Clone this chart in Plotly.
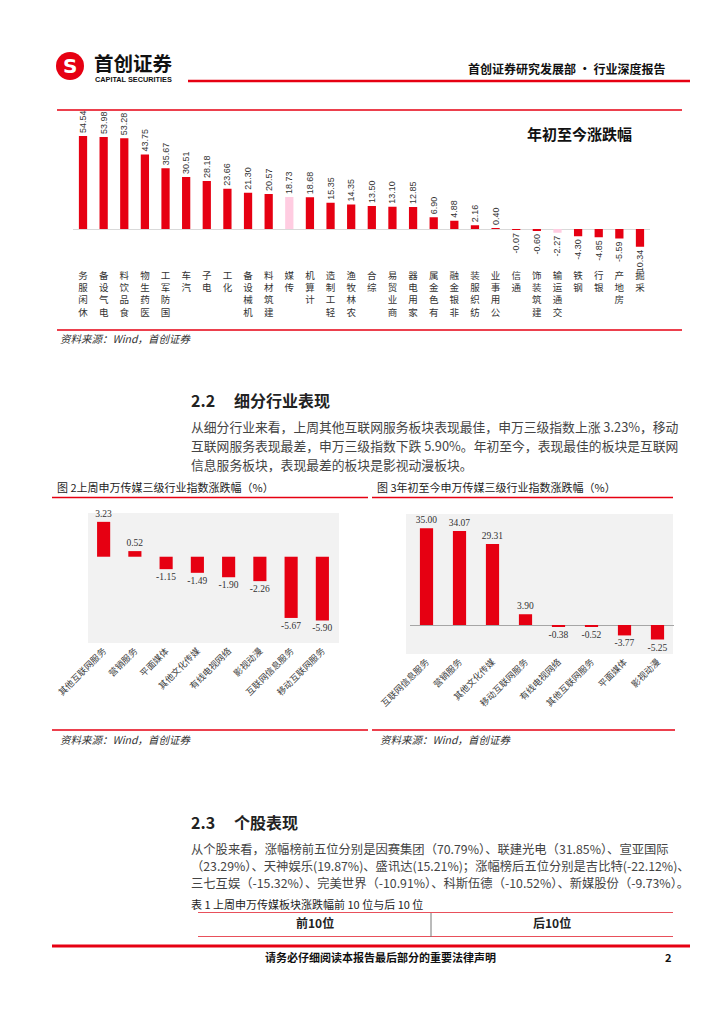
import plotly.graph_objects as go

# page is rendered inside an HTML body with an 8px margin; figure sized so the page fits the window
OFF = 8
FW, FH = 708, 1008
def X(px): return (px - OFF) / FW
def Y(py): return 1 - (py - OFF) / FH

RED = "#E60012"
PINK = "#FFCCE1"
GRAYBG = "#F2F2F2"
CJK = "Noto Sans CJK SC"

# ---------------- data ----------------
cats1 = ["休闲服务", "电气设备", "食品饮料", "医药生物", "国防军工", "汽车", "电子", "化工",
         "机械设备", "建筑材料", "传媒", "计算机", "轻工制造", "农林牧渔", "综合", "商业贸易",
         "家用电器", "有色金属", "非银金融", "纺织服装", "公用事业", "通信", "建筑装饰",
         "交通运输", "钢铁", "银行", "房地产", "采掘"]
vals1 = [54.54, 53.98, 53.28, 43.75, 35.67, 30.51, 28.18, 23.66, 21.30, 20.57, 18.73, 18.68,
         15.35, 14.35, 13.50, 13.10, 12.85, 6.90, 4.88, 2.16, 0.40, -0.07, -0.60, -2.27,
         -4.30, -4.85, -5.59, -10.34]
highlight1 = ["传媒", "交通运输"]

cats2 = ["其他互联网服务", "营销服务", "平面媒体", "其他文化传媒", "有线电视网络", "影视动漫",
         "互联网信息服务", "移动互联网服务"]
vals2 = [3.23, 0.52, -1.15, -1.49, -1.90, -2.26, -5.67, -5.90]

cats3 = ["互联网信息服务", "营销服务", "其他文化传媒", "移动互联网服务", "有线电视网络",
         "其他互联网服务", "平面媒体", "影视动漫"]
vals3 = [35.00, 34.07, 29.31, 3.90, -0.38, -0.52, -3.77, -5.25]

fig = go.Figure()

# ---------------- chart 1 ----------------
fig.add_trace(go.Bar(
    x=cats1, y=vals1, xaxis="x", yaxis="y",
    marker=dict(color=[PINK if c in highlight1 else RED for c in cats1], line=dict(width=0)),
    width=0.4,
    text=[f"{v:.2f}" for v in vals1], textposition="outside", textangle=-90,
    textfont=dict(size=9, family="Liberation Sans", color="#333333"),
    cliponaxis=False, constraintext="none", hoverinfo="skip", showlegend=False))

# ---------------- chart 2 ----------------
fig.add_trace(go.Bar(
    x=cats2, y=vals2, xaxis="x2", yaxis="y2",
    marker=dict(color=RED, line=dict(width=0)), width=0.42,
    text=[f"{v:.2f}" for v in vals2], textposition="outside", textangle=0,
    textfont=dict(size=9.5, family="Liberation Serif", color="#333333"),
    cliponaxis=False, constraintext="none", hoverinfo="skip", showlegend=False))

# ---------------- chart 3 ----------------
fig.add_trace(go.Bar(
    x=cats3, y=vals3, xaxis="x3", yaxis="y3",
    marker=dict(color=RED, line=dict(width=0)), width=0.4,
    text=[f"{v:.2f}" for v in vals3], textposition="outside", textangle=0,
    textfont=dict(size=9.5, family="Liberation Serif", color="#333333"),
    cliponaxis=False, constraintext="none", hoverinfo="skip", showlegend=False))

vert1 = ["<br>".join(reversed(c)) for c in cats1]

noaxis = dict(showgrid=False, showline=False, ticks="", fixedrange=True, automargin=False)
fig.update_layout(
    width=FW, height=FH, autosize=False,
    margin=dict(l=0, r=0, t=0, b=0, pad=0, autoexpand=False),
    paper_bgcolor="white", plot_bgcolor="rgba(0,0,0,0)",
    font=dict(family=CJK, color="#333333"),
    xaxis=dict(domain=[X(72.7), X(650.3)], anchor="y", type="category",
               tickvals=cats1, ticktext=vert1, tickangle=0,
               tickfont=dict(size=9.5, family=CJK, color="#333333"), zeroline=False, **noaxis),
    yaxis=dict(domain=[Y(268), Y(112)], anchor="x", range=[-22.87, 68.62],
               showticklabels=False, zeroline=True, zerolinecolor="#D9D9D9", zerolinewidth=1, **noaxis),
    xaxis2=dict(domain=[X(88), X(338)], anchor="y2", type="category", tickangle=-45,
                tickfont=dict(size=9, family=CJK, color="#404040"), zeroline=False, **noaxis),
    yaxis2=dict(domain=[Y(643), Y(513)], anchor="x2", range=[-7.99, 4.05],
                showticklabels=False, zeroline=False, **noaxis),
    xaxis3=dict(domain=[X(410), X(674)], anchor="y3", type="category", tickangle=-45,
                tickfont=dict(size=9, family=CJK, color="#404040"), zeroline=False, **noaxis),
    yaxis3=dict(domain=[Y(654), Y(514)], anchor="x3", range=[-10.5, 40.2],
                showticklabels=False, zeroline=True, zerolinecolor="#A6A6A6", zerolinewidth=1, **noaxis),
)

# ---------------- shapes ----------------
def hline(y, x0, x1, w=1.5, color=RED):
    fig.add_shape(type="line", xref="paper", yref="paper", x0=X(x0), x1=X(x1), y0=Y(y), y1=Y(y),
                  line=dict(color=color, width=w))

def vline(x, y0, y1, w=1, color="#777777"):
    fig.add_shape(type="line", xref="paper", yref="paper", x0=X(x), x1=X(x), y0=Y(y0), y1=Y(y1),
                  line=dict(color=color, width=w))

def rect(x0, y0, x1, y1, color):
    fig.add_shape(type="rect", xref="paper", yref="paper", x0=X(x0), x1=X(x1), y0=Y(y1), y1=Y(y0),
                  fillcolor=color, line=dict(width=0), layer="below")

rect(88, 513, 339, 643, GRAYBG)
rect(406, 514, 673, 654, GRAYBG)

# header
fig.add_shape(type="circle", xref="paper", yref="paper", x0=X(56), x1=X(84), y0=Y(80), y1=Y(52),
              fillcolor=RED, line=dict(width=0))
hline(81, 188, 690, 2.5)

# chart 1 frame lines
hline(110, 57, 682, 1.5)
hline(330, 57, 682, 1.5)
# figure 2/3 lines
hline(497.5, 52, 368, 1.5)
hline(497.5, 372, 673, 1.5)
hline(730, 52, 368, 1.5)
hline(730, 372, 675, 1.5)
# table
hline(912.5, 198, 673, 1, "#E8505B")
hline(936.5, 198, 673, 1, "#E8505B")
vline(431, 913, 937)
hline(946, 52, 690, 3)

# ---------------- text ----------------
def txt(s, px, py, size, xanchor="left", color="#222222", family=CJK):
    fig.add_annotation(text=s, x=X(px), y=Y(py), xref="paper", yref="paper",
                       xanchor=xanchor, yanchor="middle", showarrow=False,
                       font=dict(size=size, color=color, family=family))

txt("<b>S</b>", 70, 66, 20, "center", "white", "DejaVu Sans")
txt("<b>首创证券</b>", 92, 62, 19.5, "left", "#111111")
txt("<b>CAPITAL SECURITIES</b>", 93, 80, 7.3, "left", "#111111", "Liberation Sans")
txt("<b>首创证券研究发展部 · 行业深度报告</b>", 667, 68, 12, "right", "#111111")

txt("<b>年初至今涨跌幅</b>", 579, 133, 15, "center", "#111111")
txt("<i>资料来源：Wind，首创证券</i>", 58, 339, 10.5, "left", "#333333")

txt("<b>2.2</b>", 189, 400, 16, "left", "#222222")
txt("<b>细分行业表现</b>", 232, 400, 16, "left", "#222222")
p22 = ["从细分行业来看，上周其他互联网服务板块表现最佳，申万三级指数上涨 3.23%，移动",
       "互联网服务表现最差，申万三级指数下跌 5.90%。年初至今，表现最佳的板块是互联网",
       "信息服务板块，表现最差的板块是影视动漫板块。"]
for i, line in enumerate(p22):
    txt(line, 189, 426 + i * 19.5, 12.8, "left", "#444444")

txt("图 2上周申万传媒三级行业指数涨跌幅（%）", 55, 487, 11, "left", "#222222")
txt("图 3年初至今申万传媒三级行业指数涨跌幅（%）", 375, 487, 11, "left", "#222222")
txt("<i>资料来源：Wind，首创证券</i>", 58, 739, 10.5, "left", "#333333")
txt("<i>资料来源：Wind，首创证券</i>", 378, 739, 10.5, "left", "#333333")

txt("<b>2.3</b>", 189, 822, 16, "left", "#222222")
txt("<b>个股表现</b>", 232, 822, 16, "left", "#222222")
p23 = ["从个股来看，涨幅榜前五位分别是因赛集团（70.79%）、联建光电（31.85%）、宣亚国际",
       "（23.29%）、天神娱乐(19.87%)、盛讯达(15.21%)；涨幅榜后五位分别是吉比特(-22.12%)、",
       "三七互娱（-15.32%）、完美世界（-10.91%）、科斯伍德（-10.52%）、新媒股份（-9.73%）。"]
for i, line in enumerate(p23):
    txt(line, 189, 849 + i * 17, 12.3, "left", "#444444")

txt("表 1 上周申万传媒板块涨跌幅前 10 位与后 10 位", 189, 904, 11, "left", "#222222")
txt("<b>前10位</b>", 315, 922, 12, "center", "#222222")
txt("<b>后10位</b>", 552, 922, 12, "center", "#222222")

txt("<b>请务必仔细阅读本报告最后部分的重要法律声明</b>", 380, 957, 11, "center", "#111111")
txt("<b>2</b>", 668, 957, 11, "center", "#111111")

fig.write_html("out.html")
